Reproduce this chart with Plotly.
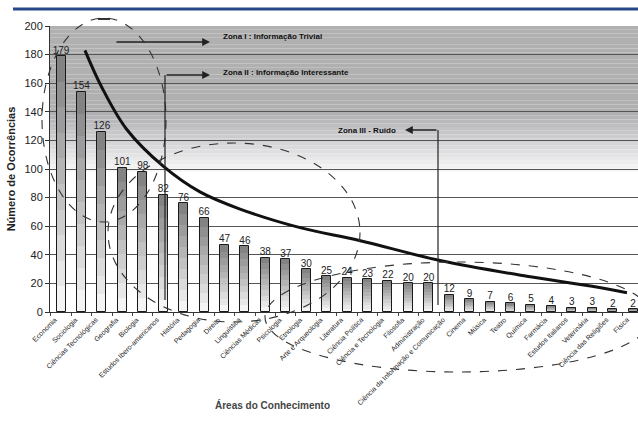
import plotly.graph_objects as go
import numpy as np

# ---------------- data ----------------
categories = [
    "Economia", "Sociologia", "Ciências Tecnológicas", "Geografia", "Biologia",
    "Estudos Ibero-americanos", "História", "Pedagogia", "Direito", "Linguística",
    "Ciências Médicas", "Psicologia", "Etnologia", "Arte e Arqueologia", "Literatura",
    "Ciência Política", "Ciência e Tecnologia", "Filosofia", "Administração",
    "Ciência da Informação e Comunicação", "Cinema", "Música", "Teatro", "Química",
    "Farmácia", "Estudos Italianos", "Veterinária", "Ciência das Religiões", "Física",
]
occurrences = [179, 154, 126, 101, 98, 82, 76, 66, 47, 46, 38, 37, 30, 25, 24,
               23, 22, 20, 20, 12, 9, 7, 6, 5, 4, 3, 3, 2, 2]

# trend curve (category position, value)
curve_x = [1.17, 2.0, 3.2, 5.0, 6.8, 8.76, 11.7, 14.6, 18.55, 22.8, 26.0, 27.7]
curve_y = [183, 157, 128, 102, 84, 72, 59, 50, 36, 25, 18, 13.5]

y_ticks = [0, 20, 40, 60, 80, 100, 120, 140, 160, 180, 200]

# ---------------- layout geometry (pixels) ----------------
W, H = 638, 431
L, R, T, B = 50, 0, 26, 119
PW, PH = W - L - R, H - T - B
XR = [-0.54, 28.24]

def px(xp):
    return (xp - L) / PW

def py(yp):
    return (T + PH - yp) / PH

FONT = "Liberation Sans, Arial, sans-serif"

idx = list(range(len(categories)))
fig = go.Figure()

# gradient bars: stacked slices from white (bottom) to grey (top)
N = 10
vals = np.array(occurrences, dtype=float)
for k in range(N):
    t = (k + 0.5) / N
    c = int(round(250 - t * 125))
    fig.add_trace(go.Bar(
        x=idx, y=vals / N, base=vals * k / N, width=0.44,
        marker=dict(color=f"rgb({c},{c},{c})", line=dict(width=0)),
        hoverinfo="skip", showlegend=False,
    ))

# outline
fig.add_trace(go.Bar(
    x=idx, y=occurrences, width=0.44,
    marker=dict(color="rgba(0,0,0,0)", line=dict(color="#1a1a1a", width=1)),
    showlegend=False, hoverinfo="skip",
))

# value labels
fig.add_trace(go.Scatter(
    x=idx, y=occurrences, mode="text",
    text=[str(v) for v in occurrences], textposition="top center",
    textfont=dict(family=FONT, size=10, color="#222"),
    cliponaxis=False, showlegend=False, hoverinfo="skip",
))

# trend curve
fig.add_trace(go.Scatter(
    x=curve_x, y=curve_y, mode="lines",
    line=dict(color="#111", width=3, shape="spline", smoothing=1.0),
    showlegend=False, hoverinfo="skip",
))

shapes = []
# grey gradient background in the upper part of the plot
bands = np.linspace(200, 98, 40)
for i in range(len(bands) - 1):
    v = bands[i]
    if v > 140:
        r = g = b = 176
    else:
        t = (140 - v) / (140 - 98)
        r = int(176 + t * (252 - 176))
        g = int(176 + t * (252 - 176))
        b = int(180 + t * (253 - 180))
    shapes.append(dict(type="rect", xref="paper", yref="y", x0=0, x1=1,
                       y0=bands[i + 1], y1=bands[i], fillcolor=f"rgb({r},{g},{b})",
                       line=dict(width=0), layer="below"))

# top blue rule
shapes.append(dict(type="line", xref="paper", yref="paper", x0=px(13), x1=px(638),
                   y0=py(9), y1=py(9), line=dict(color="#27478a", width=3)))

dash = dict(color="#333", width=1.1, dash="dash")
# zone ellipses
shapes.append(dict(type="circle", xref="paper", yref="paper",
                   x0=px(42), x1=px(166), y0=py(222), y1=py(18), line=dash))
shapes.append(dict(type="line", xref="paper", yref="paper",
                   x0=px(98), x1=px(110), y0=py(19), y1=py(19),
                   line=dict(color="#333", width=2)))
shapes.append(dict(type="circle", xref="paper", yref="paper",
                   x0=px(108), x1=px(360), y0=py(322), y1=py(143), line=dash))
shapes.append(dict(type="circle", xref="paper", yref="paper",
                   x0=px(265), x1=px(652), y0=py(372), y1=py(262), line=dash))

# connector lines
solid = dict(color="#222", width=1.2)
shapes.append(dict(type="line", xref="paper", yref="paper",
                   x0=px(165), x1=px(165), y0=py(300), y1=py(75), line=solid))
shapes.append(dict(type="line", xref="paper", yref="paper",
                   x0=px(438), x1=px(438), y0=py(305), y1=py(130), line=solid))

ann_font = dict(family=FONT, size=8, color="#111")
annotations = [
    # arrows
    dict(xref="paper", yref="paper", x=px(210), y=py(42), ax=-95, ay=0, text="",
         showarrow=True, arrowhead=2, arrowsize=1.2, arrowwidth=1.3, arrowcolor="#222"),
    dict(xref="paper", yref="paper", x=px(210), y=py(75), ax=-45, ay=0, text="",
         showarrow=True, arrowhead=2, arrowsize=1.2, arrowwidth=1.3, arrowcolor="#222"),
    dict(xref="paper", yref="paper", x=px(405), y=py(130), ax=33, ay=0, text="",
         showarrow=True, arrowhead=2, arrowsize=1.2, arrowwidth=1.3, arrowcolor="#222"),
    # zone labels
    dict(xref="paper", yref="paper", x=px(221), y=py(37), text="<b>Zona I : Informação Trivial</b>",
         showarrow=False, xanchor="left", yanchor="middle", font=ann_font),
    dict(xref="paper", yref="paper", x=px(221), y=py(72), text="<b>Zona II : Informação Interessante</b>",
         showarrow=False, xanchor="left", yanchor="middle", font=ann_font),
    dict(xref="paper", yref="paper", x=px(398), y=py(130), text="<b>Zona III - Ruído</b>",
         showarrow=False, xanchor="right", yanchor="middle", font=ann_font),
    # x axis title
    dict(xref="paper", yref="paper", x=px(272), y=py(405), text="<b>Áreas do Conhecimento</b>",
         showarrow=False, xanchor="center", yanchor="middle",
         font=dict(family=FONT, size=10, color="#444")),
]

fig.update_layout(
    width=W, height=H,
    margin=dict(l=L, r=R, t=T, b=B, pad=0, autoexpand=False),
    paper_bgcolor="white", plot_bgcolor="white",
    barmode="overlay", bargap=0,
    shapes=shapes, annotations=annotations,
    xaxis=dict(
        range=XR, tickmode="array", tickvals=[i - 0.3 for i in idx], ticktext=categories,
        tickangle=-45, tickfont=dict(family=FONT, size=7, color="#222"),
        ticks="", showgrid=False, zeroline=False, automargin=False,
        showline=True, linecolor="#333", linewidth=1,
        minor=dict(tickmode="linear", tick0=0.5, dtick=1, ticks="outside",
                   ticklen=3, tickcolor="#444", showgrid=False),
    ),
    yaxis=dict(
        range=[0, 200], tickmode="array", tickvals=y_ticks, automargin=False,
        tickfont=dict(family=FONT, size=11, color="#222"),
        ticks="outside", ticklen=4, tickcolor="#333",
        showgrid=True, gridcolor="#555", gridwidth=1,
        zeroline=False, showline=True, linecolor="#333", linewidth=1,
        title=dict(text="<b>Número de Ocorrências</b>", standoff=6,
                   font=dict(family=FONT, size=11, color="#222")),
    ),
)

fig.write_html(
    "out.html",
    config={"displayModeBar": False},
    post_script="document.body.style.margin='0px';document.body.style.overflow='hidden';",
)
